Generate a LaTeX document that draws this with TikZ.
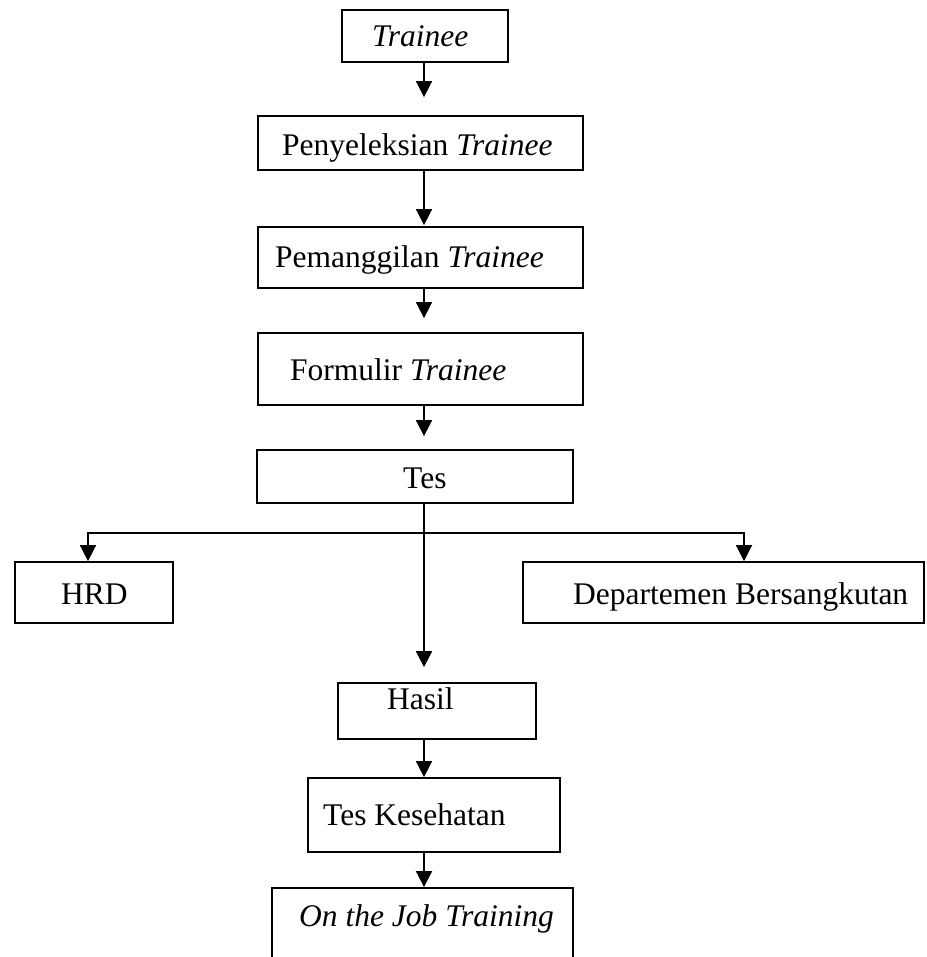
\documentclass[tikz,border=0pt]{standalone}
\usepackage{fontspec}
\setmainfont{Liberation Serif}
\usetikzlibrary{arrows.meta}
\begin{document}
\begin{tikzpicture}[x=1pt,y=-1pt,
  box/.style={draw=black,line width=1.8pt,inner sep=0pt,minimum width=#1},
  txt/.style={anchor=base west,inner sep=0pt,font=\fontsize{31.5}{38}\selectfont},
  arr/.style={line width=1.8pt,-{Triangle[width=16pt,length=16pt]}}]
\clip (0,0) rectangle (926,957);
\useasboundingbox (0,0) rectangle (926,957);
\fill[white] (0,0) rectangle (926,957);
\coordinate (spine) at (424,0);
% boxes
\node[box=166,minimum height=52] (b1) at (425,36) {};
\node[box=325,minimum height=54] (b2) at (420.5,143) {};
\node[box=325,minimum height=61] (b3) at (420.5,257.5) {};
\node[box=325,minimum height=72] (b4) at (420.5,369) {};
\node[box=316,minimum height=53] (b5) at (415,476.5) {};
\node[box=158,minimum height=61] (hrd) at (94,592.5) {};
\node[box=401,minimum height=61] (dept) at (723.5,592.5) {};
\node[box=198,minimum height=56] (hasil) at (437,711) {};
\node[box=252,minimum height=74] (tk) at (434,815) {};
\node[box=301,minimum height=90] (ojt) at (422.5,933) {};
% texts
\node[txt] (t1) at (372,47) {\itshape Trainee};
\node[txt] (t2) at (282,156) {Penyeleksian \textit{Trainee}};
\node[txt] (t3) at (275,268) {Pemanggilan \textit{Trainee}};
\node[txt] (t4) at (290,380) {Formulir \textit{Trainee}};
\node[txt] (t5) at (403,488) {Tes};
\node[txt] (t6) at (61,604) {HRD};
\node[txt] (t7) at (573,604) {Departemen Bersangkutan};
\node[txt] (t8) at (387,709) {Hasil};
\node[txt] (t9) at (323,825) {Tes Kesehatan};
\node[txt] (t10) at (299,926) {\itshape On the Job Training};
% connectors
\draw[arr,shorten >=18pt] (b1.south -| spine) -- (b2.north -| spine);
\draw[arr,shorten >=1pt] (b2.south -| spine) -- (b3.north -| spine);
\draw[arr,shorten >=14pt] (b3.south -| spine) -- (b4.north -| spine);
\draw[arr,shorten >=13pt] (b4.south -| spine) -- (b5.north -| spine);
\coordinate (junc) at (424,533);
\draw[line width=1.8pt] (b5.south -| spine) -- (junc);
\draw[arr] (junc) -| ([xshift=-6pt]hrd.north);
\draw[arr] (junc) -| ([xshift=20.5pt]dept.north);
\draw[arr,shorten >=15pt] (b5.south -| spine) -- (hasil.north -| spine);
\draw[arr] (hasil.south -| spine) -- (tk.north -| spine);
\draw[arr] (tk.south -| spine) -- (ojt.north -| spine);
\end{tikzpicture}
\end{document}
